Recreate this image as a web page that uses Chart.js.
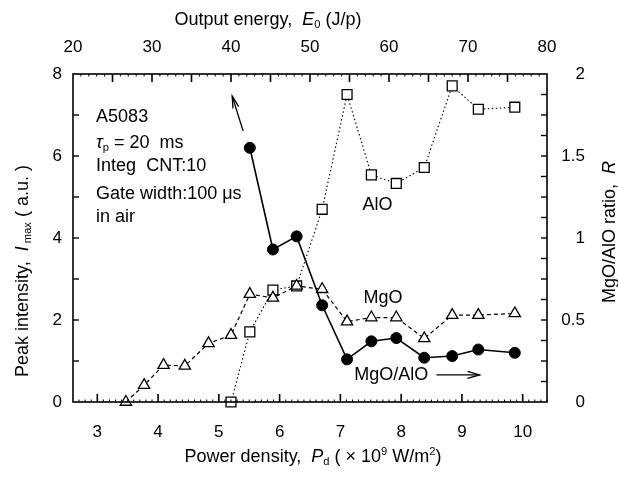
<!DOCTYPE html>
<html><head><meta charset="utf-8">
<script src="https://cdn.jsdelivr.net/npm/chart.js@4.4.0/dist/chart.umd.min.js"></script>
<style>html,body{margin:0;padding:0;background:#fff;}#wrap{width:618px;height:477px;position:relative;}</style>
</head><body><div id="wrap"><canvas id="c" width="618" height="477"></canvas></div>
<script>
// ---- data ----
const powerDensity = [3.47,3.77,4.09,4.44,4.83,5.20,5.51,5.89,6.28,6.70,7.11,7.51,7.92,8.38,8.84,9.27,9.87];
const mgoIntensity = [0,0.41,0.90,0.88,1.43,1.63,2.63,2.54,2.83,2.75,1.96,2.06,2.06,1.55,2.12,2.12,2.16];
const aloPowerDensity = [5.20,5.51,5.89,6.28,6.70,7.11,7.51,7.92,8.38,8.84,9.27,9.87];
const aloIntensity = [0,1.71,2.73,2.83,4.70,7.50,5.54,5.33,5.72,7.71,7.14,7.19];
const ratioPowerDensity = [5.51,5.89,6.28,6.70,7.11,7.51,7.92,8.38,8.84,9.27,9.87];
const ratioValues = [1.55,0.93,1.01,0.59,0.26,0.37,0.39,0.27,0.28,0.32,0.30];
const xTicks = [3,4,5,6,7,8,9,10];
const x2Ticks = [20,30,40,50,60,70,80];
const yTicks = [0,2,4,6,8];
const y2Ticks = [0,0.5,1,1.5,2];

const FAM = "'Liberation Sans', Arial, Helvetica, sans-serif";
const pts = (xs, ys) => xs.map((x, i) => ({x, y: ys[i]}));
const fixTicks = arr => s => { s.ticks = arr.map(v => ({value: v})); };
const plainLabel = v => String(v);

function segFont(size, st) {
  const sz = (st === 'sub' || st === 'sup') ? size * 0.62 : size;
  return (st === 'i' ? 'italic ' : '') + sz + 'px ' + FAM;
}
function richWidth(ctx, segs, size) {
  let w = 0;
  for (const [t, st] of segs) { ctx.font = segFont(size, st); w += ctx.measureText(t).width; }
  return w;
}
function drawRich(ctx, segs, x, y, size, align) {
  const w = richWidth(ctx, segs, size);
  let cx = align === 'center' ? x - w / 2 : x;
  ctx.textBaseline = 'middle'; ctx.textAlign = 'left'; ctx.fillStyle = '#000';
  for (const [t, st] of segs) {
    ctx.font = segFont(size, st);
    let dy = 0;
    if (st === 'sub') dy = size * 0.28;
    if (st === 'sup') dy = -size * 0.3;
    ctx.fillText(t, cx, y + dy);
    cx += ctx.measureText(t).width;
  }
}

const deco = {
  id: 'deco',
  afterDraw(chart) {
    const {ctx, chartArea: a, scales} = chart;
    const X = scales.x, X2 = scales.x2, Y = scales.y, Y2 = scales.y2;
    ctx.save();
    ctx.strokeStyle = '#000';
    ctx.lineWidth = 1.6;
    ctx.strokeRect(a.left, a.top, a.right - a.left, a.bottom - a.top);
    const line = (x1, y1, x2, y2, w) => { ctx.lineWidth = w; ctx.beginPath(); ctx.moveTo(x1, y1); ctx.lineTo(x2, y2); ctx.stroke(); };
    for (let v = 2.7; v < 10.4; v += 0.1) {
      const r = Math.round(v * 10) / 10; const px = X.getPixelForValue(r);
      if (Math.abs(r - Math.round(r)) < 1e-6) line(px, a.bottom, px, a.bottom - 8, 1.6);
      else line(px, a.bottom, px, a.bottom - 2.5, 1);
    }
    for (let v = 21; v < 80; v += 1) {
      const px = X2.getPixelForValue(v);
      if (v % 5 === 0) line(px, a.top, px, a.top + 8, 1.6);
      else line(px, a.top, px, a.top + 2.5, 1);
    }
    for (let v = 1; v < 8; v++) { const py = Y.getPixelForValue(v); line(a.left, py, a.left + 6, py, 1.4); }
    for (let v = 0.125; v < 2; v += 0.125) { const py = Y2.getPixelForValue(v); line(a.right, py, a.right - 6, py, 1.4); }

    drawRich(ctx, [['Output energy,  '], ['E', 'i'], ['0', 'sub'], [' (J/p)']], 268, 20, 18, 'center');
    drawRich(ctx, [['Power density,  '], ['P', 'i'], ['d', 'sub'], [' ( \u00d7 10'], ['9', 'sup'], [' W/m'], ['2', 'sup'], [')']], 313, 457, 18, 'center');
    ctx.save(); ctx.translate(23, 271); ctx.rotate(-Math.PI / 2);
    drawRich(ctx, [['Peak intensity,  '], ['I', 'i'], [' max', 'sub'], [' ( a.u. )']], 0, 0, 18, 'center');
    ctx.restore();
    ctx.save(); ctx.translate(610, 232); ctx.rotate(-Math.PI / 2);
    drawRich(ctx, [['MgO/AlO ratio,  '], ['R', 'i']], 0, 0, 18, 'center');
    ctx.restore();

    const ax = X.getPixelForValue(2.98);
    const notes = [
      [[['A5083']], 6.95],
      [[['\u03c4', 'i'], ['p', 'sub'], [' = 20  ms']], 6.32],
      [[['Integ  CNT:10']], 5.76],
      [[['Gate width:100 \u03bcs']], 5.07],
      [[['in air']], 4.51]
    ];
    for (const [segs, yv] of notes) drawRich(ctx, segs, ax, Y.getPixelForValue(yv), 18, 'left');
    drawRich(ctx, [['AlO']], X.getPixelForValue(7.61), Y.getPixelForValue(4.80), 18, 'center');
    drawRich(ctx, [['MgO']], X.getPixelForValue(7.70), Y.getPixelForValue(2.54), 18, 'center');
    drawRich(ctx, [['MgO/AlO']], X.getPixelForValue(7.23), Y.getPixelForValue(0.66), 18, 'left');

    const arrow = (x1, y1, x2, y2, hl, hw) => {
      ctx.lineWidth = 1.3;
      ctx.beginPath(); ctx.moveTo(x1, y1); ctx.lineTo(x2, y2); ctx.stroke();
      const ang = Math.atan2(y2 - y1, x2 - x1);
      ctx.beginPath();
      ctx.moveTo(x2 - hl * Math.cos(ang) + hw * Math.sin(ang), y2 - hl * Math.sin(ang) - hw * Math.cos(ang));
      ctx.lineTo(x2, y2);
      ctx.lineTo(x2 - hl * Math.cos(ang) - hw * Math.sin(ang), y2 - hl * Math.sin(ang) + hw * Math.cos(ang));
      ctx.stroke();
    };
    arrow(X.getPixelForValue(8.58), Y.getPixelForValue(0.66), X.getPixelForValue(9.29), Y.getPixelForValue(0.66), 12, 3.5);
    arrow(X.getPixelForValue(5.40), Y.getPixelForValue(6.61), X.getPixelForValue(5.22), Y.getPixelForValue(7.46), 12, 3);
    ctx.restore();
  }
};

const tickFont = {size: 17, family: FAM};
new Chart(document.getElementById('c'), {
  type: 'scatter',
  data: {
    datasets: [
      {label: 'MgO/AlO', data: pts(ratioPowerDensity, ratioValues), xAxisID: 'x', yAxisID: 'y2', showLine: true,
       borderColor: '#000', borderWidth: 1.6, pointStyle: 'circle', pointRadius: 5.5, pointBackgroundColor: '#000',
       pointBorderColor: '#000', pointBorderWidth: 1, tension: 0, clip: false, order: 0},
      {label: 'MgO', data: pts(powerDensity, mgoIntensity), xAxisID: 'x', yAxisID: 'y', showLine: true,
       borderColor: '#000', borderWidth: 1.2, borderDash: [4, 3], pointStyle: 'triangle', pointRadius: 6.5,
       pointBackgroundColor: '#fff', pointBorderColor: '#000', pointBorderWidth: 1.3, tension: 0, clip: false, order: 1},
      {label: 'AlO', data: pts(aloPowerDensity, aloIntensity), xAxisID: 'x', yAxisID: 'y', showLine: true,
       borderColor: '#000', borderWidth: 1.1, borderDash: [1.5, 2.5], pointStyle: 'rect', pointRadius: 7,
       pointBackgroundColor: '#fff', pointBorderColor: '#000', pointBorderWidth: 1.3, tension: 0, clip: false, order: 2}
    ]
  },
  options: {
    responsive: false, animation: false,
    layout: {padding: {left: 0, right: 33, top: 0, bottom: 0}},
    plugins: {legend: {display: false}, tooltip: {enabled: false}},
    scales: {
      x: {type: 'linear', position: 'bottom', min: 2.6, max: 10.4, afterBuildTicks: fixTicks(xTicks),
          afterFit: s => { s.height = 75; },
          grid: {display: false, drawTicks: false}, border: {display: false},
          ticks: {padding: 20, font: tickFont, color: '#000', maxRotation: 0, autoSkip: false, callback: plainLabel}},
      x2: {type: 'linear', position: 'top', min: 20, max: 80, afterBuildTicks: fixTicks(x2Ticks),
          afterFit: s => { s.height = 74; },
          grid: {display: false, drawTicks: false}, border: {display: false},
          ticks: {padding: 16, font: tickFont, color: '#000', maxRotation: 0, autoSkip: false, callback: plainLabel}},
      y: {type: 'linear', position: 'left', min: 0, max: 8, afterBuildTicks: fixTicks(yTicks),
          afterFit: s => { s.width = 73; },
          grid: {display: false, drawTicks: false}, border: {display: false},
          ticks: {padding: 11, font: tickFont, color: '#000', autoSkip: false, callback: plainLabel}},
      y2: {type: 'linear', position: 'right', min: 0, max: 2, afterBuildTicks: fixTicks(y2Ticks),
          afterFit: s => { s.width = 38; },
          grid: {display: false, drawTicks: false}, border: {display: false},
          ticks: {padding: 11, crossAlign: 'far', font: tickFont, color: '#000', autoSkip: false, callback: plainLabel}}
    }
  },
  plugins: [deco]
});
</script></body></html>
